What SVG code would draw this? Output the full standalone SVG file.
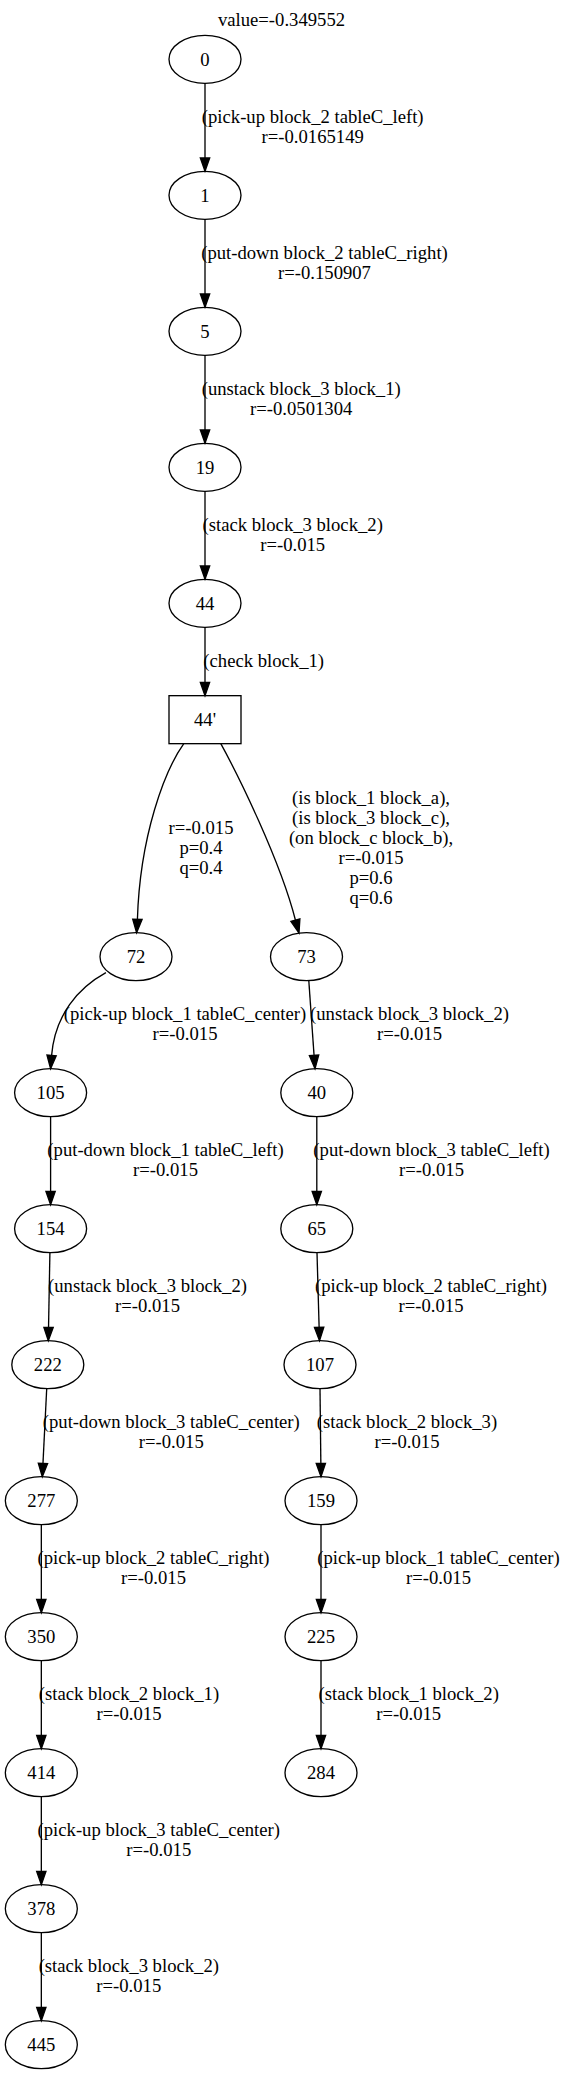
<svg xmlns="http://www.w3.org/2000/svg" width="563" height="2075" viewBox="0 0 563 2075">
<style>
text{font-family:"Liberation Serif","Times New Roman",serif;font-size:18.67px;fill:#000}
.n{text-anchor:middle}
.l{text-anchor:middle}
ellipse,rect{fill:none;stroke:#000;stroke-width:1.33}
.e path{fill:none;stroke:#000;stroke-width:1.33}
.e polygon{fill:#000;stroke:#000;stroke-width:1.33}
</style>
<rect x="0" y="0" width="563" height="2075" style="fill:#fff;stroke:none"/>
<text class="n" x="281.5" y="25.5">value=-0.349552</text>
<g class="e" id="edges">
<g id="e0_1"><path d="M205,83.33L205,158"/><polygon points="209.67,158 205,171.33 200.33,158"/>
<text class="l" x="312.7" y="122.9">(pick-up block_2 tableC_left)<tspan x="312.7" dy="20">r=-0.0165149</tspan></text></g>
<g id="e1_5"><path d="M205,219.33L205,294"/><polygon points="209.67,294 205,307.33 200.33,294"/>
<text class="l" x="324.5" y="258.9">(put-down block_2 tableC_right)<tspan x="324.5" dy="20">r=-0.150907</tspan></text></g>
<g id="e5_19"><path d="M205,355.33L205,430"/><polygon points="209.67,430 205,443.33 200.33,430"/>
<text class="l" x="301.2" y="394.9">(unstack block_3 block_1)<tspan x="301.2" dy="20">r=-0.0501304</tspan></text></g>
<g id="e19_44"><path d="M205,491.33L205,566"/><polygon points="209.67,566 205,579.33 200.33,566"/>
<text class="l" x="292.7" y="530.9">(stack block_3 block_2)<tspan x="292.7" dy="20">r=-0.015</tspan></text></g>
<g id="e44_44p"><path d="M205,627.33L205,682.33"/><polygon points="209.67,682.33 205,695.67 200.33,682.33"/>
<text class="l" x="263.7" y="666.7">(check block_1)</text></g>
<g id="e44p_72"><path d="M183.8,743.67C165,770 140,835 137.4,919.4"/><polygon points="142.07,919.5 136.6,932.67 132.73,919.2"/>
<text class="l" x="201" y="833.5">r=-0.015<tspan x="201" dy="20">p=0.4</tspan><tspan x="201" dy="20">q=0.4</tspan></text></g>
<g id="e44p_73"><path d="M220.8,743.67C238,775 280,860 295.4,920"/><polygon points="299.9,918.8 299,933 290.9,921.3"/>
<text class="l" x="371" y="804">(is block_1 block_a),<tspan x="371" dy="20">(is block_3 block_c),</tspan><tspan x="371" dy="20">(on block_c block_b),</tspan><tspan x="371" dy="20">r=-0.015</tspan><tspan x="371" dy="20">p=0.6</tspan><tspan x="371" dy="20">q=0.6</tspan></text></g>
<g id="e72_105"><path d="M105.9,972.7C78,988 55,1015 51.6,1055.4"/><polygon points="56.25,1055.8 50.6,1068.67 46.95,1055"/>
<text class="l" x="185" y="1020.3">(pick-up block_1 tableC_center)<tspan x="185" dy="20">r=-0.015</tspan></text></g>
<g id="e73_40"><path d="M308.8,980.67L314.06,1055.37"/><polygon points="318.72,1055.04 315,1068.67 309.4,1055.7"/>
<text class="l" x="409.5" y="1020.3">(unstack block_3 block_2)<tspan x="409.5" dy="20">r=-0.015</tspan></text></g>
<g id="e105_154"><path d="M50.6,1116.67L50.6,1191.33"/><polygon points="55.27,1191.33 50.6,1204.67 45.93,1191.33"/>
<text class="l" x="165.5" y="1156.3">(put-down block_1 tableC_left)<tspan x="165.5" dy="20">r=-0.015</tspan></text></g>
<g id="e40_65"><path d="M316.8,1116.67L316.8,1191.33"/><polygon points="321.47,1191.33 316.8,1204.67 312.13,1191.33"/>
<text class="l" x="431.5" y="1156.3">(put-down block_3 tableC_left)<tspan x="431.5" dy="20">r=-0.015</tspan></text></g>
<g id="e154_222"><path d="M49.9,1252.67L48.54,1327.34"/><polygon points="53.2,1327.4 48.3,1340.67 43.9,1327.3"/>
<text class="l" x="147.5" y="1292.3">(unstack block_3 block_2)<tspan x="147.5" dy="20">r=-0.015</tspan></text></g>
<g id="e65_107"><path d="M317,1252.67L319.12,1327.35"/><polygon points="323.79,1327.22 319.5,1340.67 314.45,1327.48"/>
<text class="l" x="431" y="1292.3">(pick-up block_2 tableC_right)<tspan x="431" dy="20">r=-0.015</tspan></text></g>
<g id="e222_277"><path d="M46.7,1388.67L42.97,1463.36"/><polygon points="47.63,1463.59 42.3,1476.67 38.31,1463.13"/>
<text class="l" x="171.3" y="1428.3">(put-down block_3 tableC_center)<tspan x="171.3" dy="20">r=-0.015</tspan></text></g>
<g id="e107_159"><path d="M320,1388.67L320.85,1463.34"/><polygon points="325.5,1463.3 321,1476.67 316.2,1463.4"/>
<text class="l" x="407" y="1428.3">(stack block_2 block_3)<tspan x="407" dy="20">r=-0.015</tspan></text></g>
<g id="e277_350"><path d="M41.33,1524.67L41.33,1599.33"/><polygon points="46,1599.33 41.33,1612.67 36.67,1599.33"/>
<text class="l" x="153.5" y="1564.3">(pick-up block_2 tableC_right)<tspan x="153.5" dy="20">r=-0.015</tspan></text></g>
<g id="e159_225"><path d="M321,1524.67L321,1599.33"/><polygon points="325.67,1599.33 321,1612.67 316.33,1599.33"/>
<text class="l" x="438.5" y="1564.3">(pick-up block_1 tableC_center)<tspan x="438.5" dy="20">r=-0.015</tspan></text></g>
<g id="e350_414"><path d="M41.33,1660.67L41.33,1735.33"/><polygon points="46,1735.33 41.33,1748.67 36.67,1735.33"/>
<text class="l" x="129" y="1700.3">(stack block_2 block_1)<tspan x="129" dy="20">r=-0.015</tspan></text></g>
<g id="e225_284"><path d="M321,1660.67L321,1735.33"/><polygon points="325.67,1735.33 321,1748.67 316.33,1735.33"/>
<text class="l" x="408.7" y="1700.3">(stack block_1 block_2)<tspan x="408.7" dy="20">r=-0.015</tspan></text></g>
<g id="e414_378"><path d="M41.33,1796.67L41.33,1871.33"/><polygon points="46,1871.33 41.33,1884.67 36.67,1871.33"/>
<text class="l" x="158.8" y="1836.3">(pick-up block_3 tableC_center)<tspan x="158.8" dy="20">r=-0.015</tspan></text></g>
<g id="e378_445"><path d="M41.33,1932.67L41.33,2007.33"/><polygon points="46,2007.33 41.33,2020.67 36.67,2007.33"/>
<text class="l" x="128.8" y="1972.3">(stack block_3 block_2)<tspan x="128.8" dy="20">r=-0.015</tspan></text></g>
</g>
<g id="n0"><ellipse cx="205" cy="59.33" rx="36" ry="24"/><text class="n" x="205" y="65.8">0</text></g>
<g id="n1"><ellipse cx="205" cy="195.33" rx="36" ry="24"/><text class="n" x="205" y="201.8">1</text></g>
<g id="n5"><ellipse cx="205" cy="331.33" rx="36" ry="24"/><text class="n" x="205" y="337.8">5</text></g>
<g id="n19"><ellipse cx="205" cy="467.33" rx="36" ry="24"/><text class="n" x="205" y="473.8">19</text></g>
<g id="n44"><ellipse cx="205" cy="603.33" rx="36" ry="24"/><text class="n" x="205" y="609.8">44</text></g>
<g id="n44p"><rect x="169" y="695.67" width="72" height="48"/><text class="n" x="205" y="726.2">44'</text></g>
<g id="n72"><ellipse cx="136" cy="956.67" rx="36" ry="24"/><text class="n" x="136" y="963.1">72</text></g>
<g id="n73"><ellipse cx="306.5" cy="956.67" rx="36" ry="24"/><text class="n" x="306.5" y="963.1">73</text></g>
<g id="n105"><ellipse cx="50.6" cy="1092.67" rx="36" ry="24"/><text class="n" x="50.6" y="1099.1">105</text></g>
<g id="n40"><ellipse cx="316.8" cy="1092.67" rx="36" ry="24"/><text class="n" x="316.8" y="1099.1">40</text></g>
<g id="n154"><ellipse cx="50.6" cy="1228.67" rx="36" ry="24"/><text class="n" x="50.6" y="1235.1">154</text></g>
<g id="n65"><ellipse cx="316.8" cy="1228.67" rx="36" ry="24"/><text class="n" x="316.8" y="1235.1">65</text></g>
<g id="n222"><ellipse cx="47.8" cy="1364.67" rx="36" ry="24"/><text class="n" x="47.8" y="1371.1">222</text></g>
<g id="n107"><ellipse cx="320" cy="1364.67" rx="36" ry="24"/><text class="n" x="320" y="1371.1">107</text></g>
<g id="n277"><ellipse cx="41.33" cy="1500.67" rx="36" ry="24"/><text class="n" x="41.33" y="1507.1">277</text></g>
<g id="n159"><ellipse cx="321" cy="1500.67" rx="36" ry="24"/><text class="n" x="321" y="1507.1">159</text></g>
<g id="n350"><ellipse cx="41.33" cy="1636.67" rx="36" ry="24"/><text class="n" x="41.33" y="1643.1">350</text></g>
<g id="n225"><ellipse cx="321" cy="1636.67" rx="36" ry="24"/><text class="n" x="321" y="1643.1">225</text></g>
<g id="n414"><ellipse cx="41.33" cy="1772.67" rx="36" ry="24"/><text class="n" x="41.33" y="1779.1">414</text></g>
<g id="n284"><ellipse cx="321" cy="1772.67" rx="36" ry="24"/><text class="n" x="321" y="1779.1">284</text></g>
<g id="n378"><ellipse cx="41.33" cy="1908.67" rx="36" ry="24"/><text class="n" x="41.33" y="1915.1">378</text></g>
<g id="n445"><ellipse cx="41.33" cy="2044.67" rx="36" ry="24"/><text class="n" x="41.33" y="2051.1">445</text></g>
</svg>
